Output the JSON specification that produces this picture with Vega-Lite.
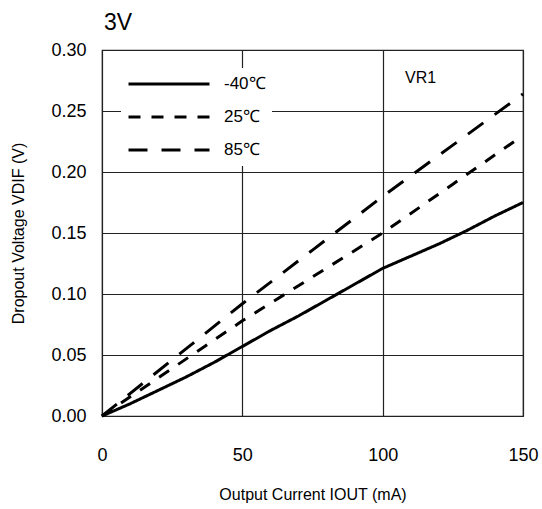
{
  "$schema": "https://vega.github.io/schema/vega-lite/v6.json",
  "width": 421,
  "height": 366,
  "autosize": {"type": "none"},
  "padding": {"left": 102, "top": 50, "right": 19, "bottom": 93},
  "background": "white",
  "config": {
    "font": "Liberation Sans",
    "view": {"stroke": "#222", "strokeWidth": 1.2}
  },
  "title": {
    "text": "3V",
    "anchor": "start",
    "frame": "group",
    "fontSize": 23,
    "fontWeight": "normal",
    "color": "black",
    "offset": 6,
    "dx": 2
  },
  "data": {
    "values": [
      {"temp": "-40℃", "I": 0, "V": 0},
      {"temp": "-40℃", "I": 10, "V": 0.010},
      {"temp": "-40℃", "I": 20, "V": 0.021},
      {"temp": "-40℃", "I": 30, "V": 0.032},
      {"temp": "-40℃", "I": 40, "V": 0.044},
      {"temp": "-40℃", "I": 50, "V": 0.057},
      {"temp": "-40℃", "I": 60, "V": 0.070},
      {"temp": "-40℃", "I": 70, "V": 0.082},
      {"temp": "-40℃", "I": 80, "V": 0.095},
      {"temp": "-40℃", "I": 90, "V": 0.108},
      {"temp": "-40℃", "I": 100, "V": 0.121},
      {"temp": "-40℃", "I": 110, "V": 0.131},
      {"temp": "-40℃", "I": 120, "V": 0.141},
      {"temp": "-40℃", "I": 130, "V": 0.152},
      {"temp": "-40℃", "I": 140, "V": 0.164},
      {"temp": "-40℃", "I": 150, "V": 0.175},
      {"temp": "25℃", "I": 0, "V": 0},
      {"temp": "25℃", "I": 25, "V": 0.039},
      {"temp": "25℃", "I": 50, "V": 0.078},
      {"temp": "25℃", "I": 75, "V": 0.114},
      {"temp": "25℃", "I": 100, "V": 0.150},
      {"temp": "25℃", "I": 125, "V": 0.190},
      {"temp": "25℃", "I": 150, "V": 0.230},
      {"temp": "85℃", "I": 0, "V": 0},
      {"temp": "85℃", "I": 25, "V": 0.046},
      {"temp": "85℃", "I": 50, "V": 0.092},
      {"temp": "85℃", "I": 75, "V": 0.136},
      {"temp": "85℃", "I": 100, "V": 0.180},
      {"temp": "85℃", "I": 125, "V": 0.222},
      {"temp": "85℃", "I": 150, "V": 0.264}
    ]
  },
  "layer": [
    {
      "mark": {"type": "line", "color": "black", "strokeWidth": 3},
      "encoding": {
        "x": {
          "field": "I", "type": "quantitative",
          "scale": {"domain": [0, 150], "nice": false},
          "axis": {
            "values": [0, 50, 100, 150],
            "title": "Output Current IOUT (mA)",
            "titleFontSize": 16, "titleFontWeight": "normal", "titleColor": "black",
            "titlePadding": 22,
            "labelFontSize": 18, "labelColor": "black", "labelPadding": 30,
            "labelFlush": false, "labelBound": false,
            "ticks": false, "domain": false,
            "grid": true, "gridColor": "#222", "gridWidth": 1.2, "gridOpacity": 1
          }
        },
        "y": {
          "field": "V", "type": "quantitative",
          "scale": {"domain": [0, 0.3], "nice": false, "zero": true},
          "axis": {
            "values": [0, 0.05, 0.1, 0.15, 0.2, 0.25, 0.3],
            "format": ".2f",
            "title": "Dropout Voltage VDIF (V)",
            "titleFontSize": 16, "titleFontWeight": "normal", "titleColor": "black",
            "titlePadding": 24,
            "labelFontSize": 18, "labelColor": "black", "labelPadding": 16,
            "labelFlush": false, "labelBound": false,
            "ticks": false, "domain": false,
            "grid": true, "gridColor": "#222", "gridWidth": 1.2, "gridOpacity": 1
          }
        },
        "strokeDash": {
          "field": "temp", "type": "nominal",
          "scale": {"domain": ["-40℃", "25℃", "85℃"], "range": [[1, 0], [12, 11], [19, 14]]},
          "legend": {
            "title": null,
            "orient": "none",
            "legendX": 19,
            "legendY": 18,
            "fillColor": "white",
            "padding": 6,
            "symbolType": "stroke",
            "symbolSize": 6561,
            "symbolStrokeWidth": 3,
            "symbolStrokeColor": "black",
            "clipHeight": 20,
            "rowPadding": 13,
            "labelFontSize": 17,
            "labelColor": "black",
            "labelOffset": 13
          }
        }
      }
    },
    {
      "data": {"values": [{"I": 108, "V": 0.277, "label": "VR1"}]},
      "mark": {"type": "text", "align": "left", "baseline": "middle", "fontSize": 16, "color": "black"},
      "encoding": {
        "x": {"field": "I", "type": "quantitative"},
        "y": {"field": "V", "type": "quantitative"},
        "text": {"field": "label"}
      }
    }
  ]
}
